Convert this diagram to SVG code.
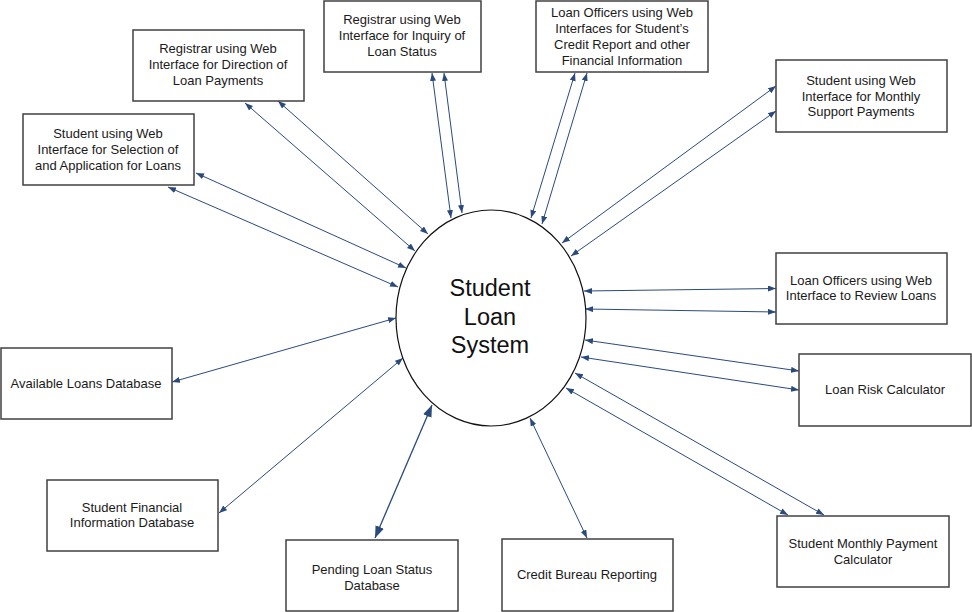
<svg xmlns="http://www.w3.org/2000/svg" width="972" height="612" viewBox="0 0 972 612">
<defs>
<marker id="ah" markerUnits="userSpaceOnUse" markerWidth="9" markerHeight="7" refX="8" refY="3" orient="auto-start-reverse">
<path d="M0,0 L8,3 L0,6 z" fill="#2A4A7C"/>
</marker>
<marker id="ahL" markerUnits="userSpaceOnUse" markerWidth="14" markerHeight="10" refX="12" refY="4.5" orient="auto-start-reverse">
<path d="M0,0 L12,4.5 L0,9 z" fill="#2A4A7C"/>
</marker>
<style>
.box{fill:#fff;stroke:#404040;stroke-width:1.5}
.t{font-family:"Liberation Sans",Arial,sans-serif;font-size:13px;fill:#1a1a1a;text-anchor:middle}
.big{font-family:"Liberation Sans",Arial,sans-serif;font-size:23.5px;fill:#111;text-anchor:middle}
.c{stroke:#2A4A7C;stroke-width:1;fill:none;marker-start:url(#ah);marker-end:url(#ah)}
.cL{stroke:#2A4A7C;stroke-width:1.3;fill:none;marker-start:url(#ahL);marker-end:url(#ahL)}
</style>
</defs>
<rect width="972" height="612" fill="#fff"/>
<g id="connectors">
<line class="c" x1="432" y1="73" x2="451" y2="218"/>
<line class="c" x1="444" y1="73" x2="462" y2="213"/>
<line class="c" x1="245" y1="103" x2="415" y2="251"/>
<line class="c" x1="278" y1="101" x2="428" y2="234"/>
<line class="c" x1="196" y1="173" x2="406" y2="268"/>
<line class="c" x1="168" y1="187" x2="398" y2="287"/>
<line class="c" x1="575" y1="73" x2="531" y2="218"/>
<line class="c" x1="587" y1="73" x2="542" y2="224"/>
<line class="c" x1="776" y1="86" x2="562" y2="243"/>
<line class="c" x1="776" y1="111" x2="571" y2="256"/>
<line class="c" x1="584" y1="291" x2="776" y2="288.5"/>
<line class="c" x1="585" y1="309" x2="776" y2="312"/>
<line class="c" x1="585" y1="340" x2="799" y2="371"/>
<line class="c" x1="581" y1="357" x2="799" y2="390"/>
<line class="c" x1="575" y1="373" x2="824" y2="515"/>
<line class="c" x1="566" y1="388" x2="788" y2="515"/>
<line class="c" x1="530" y1="418" x2="587" y2="538"/>
<line class="cL" x1="432" y1="405" x2="375" y2="538"/>
<line class="c" x1="403" y1="358" x2="219" y2="513"/>
<line class="c" x1="396" y1="318" x2="172" y2="382"/>
</g>
<g id="system">
<ellipse cx="491" cy="318" rx="95" ry="108" fill="#fff" stroke="#111" stroke-width="1.2"/>
<text class="big" x="490" y="296">Student</text>
<text class="big" x="490" y="325">Loan</text>
<text class="big" x="490" y="353">System</text>
</g>
<g id="registrar-inquiry">
<rect class="box" x="324" y="1" width="157" height="71"/>
<text class="t" x="402" y="24">Registrar using Web</text>
<text class="t" x="402" y="40">Interface for Inquiry of</text>
<text class="t" x="402" y="56">Loan Status</text>
</g>
<g id="registrar-direction">
<rect class="box" x="133" y="30" width="171" height="71"/>
<text class="t" x="218" y="53">Registrar using Web</text>
<text class="t" x="218" y="69">Interface for Direction of</text>
<text class="t" x="218" y="85">Loan Payments</text>
</g>
<g id="student-selection">
<rect class="box" x="23" y="114" width="171" height="71"/>
<text class="t" x="108" y="138">Student using Web</text>
<text class="t" x="108" y="154">Interface for Selection of</text>
<text class="t" x="108" y="170">and Application for Loans</text>
</g>
<g id="officers-credit">
<rect class="box" x="536" y="1" width="172" height="71"/>
<text class="t" x="622" y="17">Loan Officers using Web</text>
<text class="t" x="622" y="33">Interfaces for Student’s</text>
<text class="t" x="622" y="49">Credit Report and other</text>
<text class="t" x="622" y="65">Financial Information</text>
</g>
<g id="student-support">
<rect class="box" x="776" y="60" width="171" height="72"/>
<text class="t" x="861" y="85">Student using Web</text>
<text class="t" x="861" y="101">Interface for Monthly</text>
<text class="t" x="861" y="116">Support Payments</text>
</g>
<g id="officers-review">
<rect class="box" x="776" y="253" width="171" height="71"/>
<text class="t" x="861" y="285">Loan Officers using Web</text>
<text class="t" x="861" y="300">Interface to Review Loans</text>
</g>
<g id="risk-calculator">
<rect class="box" x="799" y="354" width="172" height="72"/>
<text class="t" x="885" y="394">Loan Risk Calculator</text>
</g>
<g id="payment-calculator">
<rect class="box" x="777" y="516" width="172" height="71"/>
<text class="t" x="863" y="548">Student Monthly Payment</text>
<text class="t" x="863" y="564">Calculator</text>
</g>
<g id="credit-bureau">
<rect class="box" x="502" y="539" width="171" height="72"/>
<text class="t" x="587" y="579">Credit Bureau Reporting</text>
</g>
<g id="pending-db">
<rect class="box" x="286" y="540" width="172" height="71"/>
<text class="t" x="372" y="574">Pending Loan Status</text>
<text class="t" x="372" y="590">Database</text>
</g>
<g id="financial-db">
<rect class="box" x="47" y="480" width="171" height="71"/>
<text class="t" x="132" y="512">Student Financial</text>
<text class="t" x="132" y="527">Information Database</text>
</g>
<g id="available-db">
<rect class="box" x="1" y="348" width="171" height="71"/>
<text class="t" x="86" y="388">Available Loans Database</text>
</g>
</svg>
